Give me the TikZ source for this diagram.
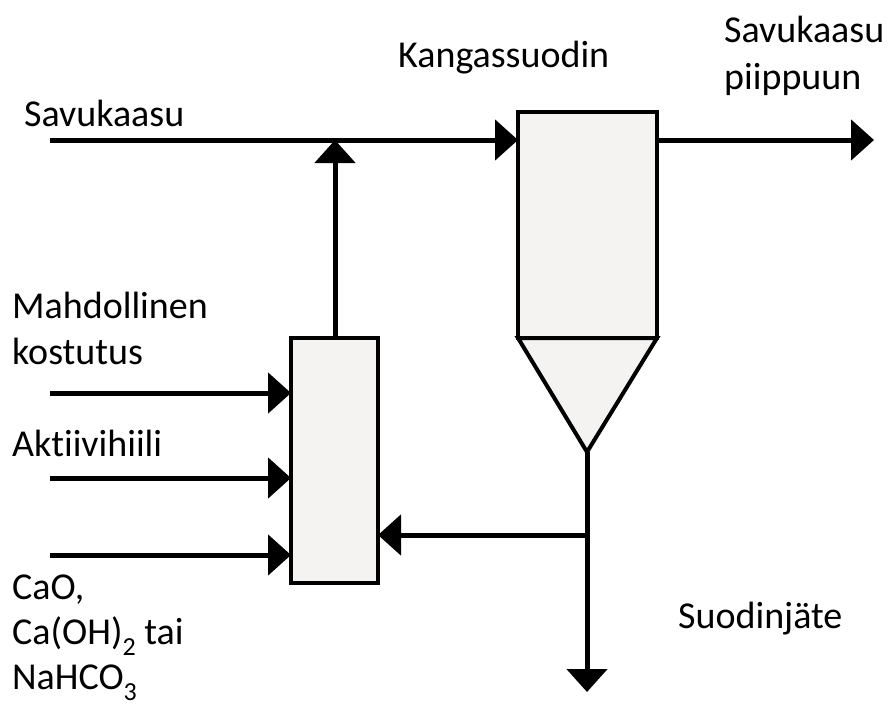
\documentclass[tikz,border=0pt]{standalone}
\usepackage{fontspec}
\setmainfont[Ligatures=NoCommon]{Carlito}
\usetikzlibrary{arrows.meta}
\definecolor{boxfill}{HTML}{F4F3F1}
% chemical subscript set in the text face
\newcommand{\chemsub}[1]{\raisebox{-11pt}{\fontsize{26}{26}\selectfont #1}}
\begin{document}
\begin{tikzpicture}[x=1pt,y=-1pt,
  flow/.style={line width=5pt,-{Triangle[length=23pt,width=40pt]}},
  pipe/.style={line width=5pt},
  unit/.style={draw,line width=4pt,fill=boxfill},
  lbl/.style={font=\fontsize{38}{46}\selectfont,inner sep=0pt,anchor=base west}]
\useasboundingbox (0,0) rectangle (890,706);
% fabric filter: housing and hopper
\coordinate (ffTL) at (518,112);
\coordinate (ffBR) at (657,338);
\filldraw[unit] (518,338) -- (657,338) -- (587,452) -- cycle;
\coordinate (ffApex) at (587,452);
\filldraw[unit] (ffTL) rectangle (ffBR);
% reagent mixer
\filldraw[unit] (291,338) rectangle (378,583);
\coordinate (mixTop) at (335,338);
% flue gas line
\coordinate (gasIn) at (50,140);
\coordinate (gasJ) at (335,140);
\coordinate (ffIn) at (518,140);
\draw[flow] (gasIn) -- (ffIn);
\draw[flow] (mixTop) -- (gasJ);
% clean gas to stack
\coordinate (ffOut) at (657,140);
\coordinate (stack) at (874,140);
\draw[flow] (ffOut) -- (stack);
% reagent feeds
\coordinate (in1) at (50,393);
\coordinate (in2) at (50,478);
\coordinate (in3) at (50,555);
\draw[flow] (in1) -- (291,393);
\draw[flow] (in2) -- (291,478);
\draw[flow] (in3) -- (291,555);
% residue outlet and recirculation
\coordinate (recJ) at (587,535);
\coordinate (waste) at (587,692);
\draw[pipe] (ffApex) -- (recJ);
\draw[flow] (ffApex) -- (waste);
\draw[flow] (recJ) -- (378,535);
% labels
\node[lbl] (tGas) at (24,126) {Savukaasu};
\node[lbl] (tFF) at (398,68) {Kangassuodin};
\node[lbl] (tStack1) at (724,43) {Savukaasu};
\node[lbl] (tStack2) at (724,90) {piippuun};
\node[lbl] (tWet1) at (12,318) {Mahdollinen};
\node[lbl] (tWet2) at (12,364) {kostutus};
\node[lbl] (tAC) at (12,456) {Aktiivihiili};
\node[lbl] (tLime1) at (12,599) {CaO,};
\node[lbl] (tLime2) at (12,644) {Ca(OH)\chemsub{2} tai};
\node[lbl] (tLime3) at (12,689) {NaHCO\chemsub{3}};
\node[lbl] (tRes) at (678,628) {Suodinjäte};
\end{tikzpicture}
\end{document}
